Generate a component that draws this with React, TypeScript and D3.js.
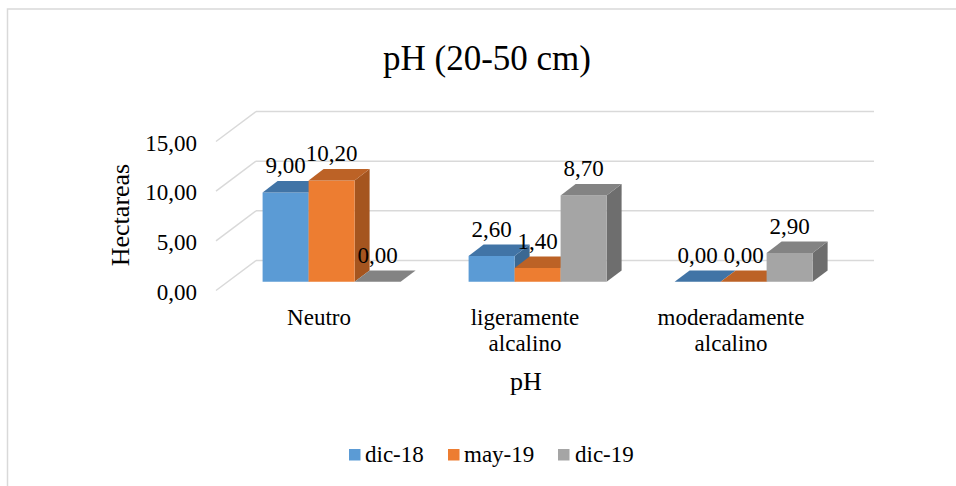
import React from "react";
import * as d3 from "d3";

const categories = ["Neutro", "ligeramente alcalino", "moderadamente alcalino"];
const categoryLines = [["Neutro"], ["ligeramente", "alcalino"], ["moderadamente", "alcalino"]];
const seriesNames = ["dic-18", "may-19", "dic-19"];
const dic18 = [9.0, 2.6, 0.0];
const may19 = [10.2, 1.4, 0.0];
const dic19 = [0.0, 8.7, 2.9];
const yTicks = [0, 5, 10, 15];

const seriesValues = [dic18, may19, dic19];
const fills = ["#5B9BD5", "#ED7D31", "#A5A5A5"];
const tops = ["#4174A6", "#BC6226", "#838383"];
const sides = ["#3B6892", "#A5551F", "#6E6E6E"];

const W = 956;
const H = 486;
const FONT = "Liberation Serif, Times New Roman, Times, serif";

// front plane of the 3D box and the depth vector to the back wall
const plotLeft = 216;
const plotRight = 834;
const depthX = 40;
const depthY = -30;

const fmt = (v: number) => v.toFixed(2).replace(".", ",");

export default function App() {
  const y = d3.scaleLinear().domain([0, 15]).range([290.5, 141.5]);
  const x0 = d3.scaleBand<string>().domain(categories).range([plotLeft, plotRight]);
  const x1 = d3.scaleBand<string>().domain(seriesNames).range([35, 173]);
  const bw = x1.bandwidth();

  // bars sit part way into the depth of the box
  const fr = 0.29;
  const offX = depthX * fr;
  const offY = depthY * fr;
  const bdX = 15;
  const bdY = -11.4;

  const bars: React.ReactNode[] = [];
  const labels: React.ReactNode[] = [];
  categories.forEach((c, ci) => {
    seriesNames.forEach((s, si) => {
      const v = seriesValues[si][ci];
      const xl = (x0(c) as number) + (x1(s) as number) + offX;
      const xr = xl + bw;
      const yb = y(0) + offY;
      const yt = y(v) + offY;
      const front = `M${xl},${yb}L${xr},${yb}L${xr},${yt}L${xl},${yt}Z`;
      const top = `M${xl},${yt}L${xr},${yt}L${xr + bdX},${yt + bdY}L${xl + bdX},${yt + bdY}Z`;
      const side = `M${xr},${yb}L${xr + bdX},${yb + bdY}L${xr + bdX},${yt + bdY}L${xr},${yt}Z`;
      bars.push(
        <g key={`${ci}-${si}`}>
          <path d={side} fill={sides[si]} />
          <path d={front} fill={fills[si]} />
          <path d={top} fill={tops[si]} />
        </g>
      );
      labels.push(
        <text key={`l-${ci}-${si}`} x={(xl + xr) / 2} y={yt - 19} textAnchor="middle" fontSize={23}>
          {fmt(v)}
        </text>
      );
    });
  });

  const legendItems = [
    { sq: 349, tx: 365 },
    { sq: 448, tx: 464 },
    { sq: 558, tx: 575 },
  ];

  return (
    <svg
      width={W}
      height={H}
      style={{ position: "absolute", left: 0, top: 0, background: "#fff", fontFamily: FONT }}
      fill="#000"
    >
      <rect x={7.5} y={9} width={W + 20} height={H + 20} fill="#fff" stroke="#d9d9d9" strokeWidth={1.5} />

      <text x={487} y={70} textAnchor="middle" fontSize={35}>
        pH (20-50 cm)
      </text>

      {/* back wall gridlines and left wall diagonals */}
      {yTicks.map((t) => (
        <g key={`g-${t}`} stroke="#d9d9d9" strokeWidth={1.5} fill="none">
          <line x1={plotLeft + depthX} x2={plotRight + depthX} y1={y(t) + depthY} y2={y(t) + depthY} />
          <line x1={plotLeft} x2={plotLeft + depthX} y1={y(t)} y2={y(t) + depthY} />
        </g>
      ))}

      {yTicks.map((t) => (
        <text key={`t-${t}`} x={197} y={y(t) + 9} textAnchor="end" fontSize={23}>
          {fmt(t)}
        </text>
      ))}

      <text transform={`translate(129,215) rotate(-90)`} textAnchor="middle" fontSize={26}>
        Hectareas
      </text>

      {bars}
      {labels}

      {categories.map((c, ci) => {
        const cx = (x0(c) as number) + x0.bandwidth() / 2;
        return (
          <text key={`c-${ci}`} x={cx} y={324.5} textAnchor="middle" fontSize={23}>
            {categoryLines[ci].map((ln, li) => (
              <tspan key={li} x={cx} dy={li === 0 ? 0 : 26}>
                {ln}
              </tspan>
            ))}
          </text>
        );
      })}

      <text x={526} y={390} textAnchor="middle" fontSize={26}>
        pH
      </text>

      {seriesNames.map((s, si) => (
        <g key={`lg-${si}`}>
          <rect x={legendItems[si].sq} y={449} width={11.5} height={11.5} fill={fills[si]} />
          <text x={legendItems[si].tx} y={461.5} fontSize={23}>
            {s}
          </text>
        </g>
      ))}
    </svg>
  );
}
